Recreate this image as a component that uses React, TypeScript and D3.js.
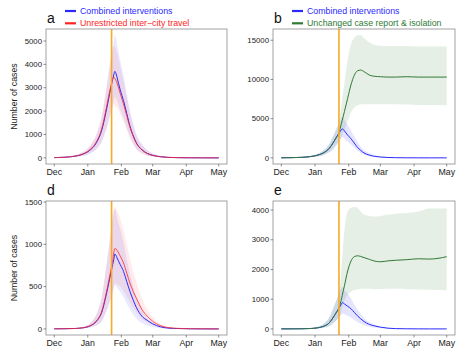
import React from "react";
import * as d3 from "d3";

// sample dates shared by every series
const DATES = [
  "2019-12-01", "2019-12-10", "2019-12-20", "2019-12-27", "2020-01-03", "2020-01-09",
  "2020-01-14", "2020-01-18", "2020-01-21", "2020-01-23", "2020-01-24", "2020-01-25",
  "2020-01-26", "2020-01-27", "2020-01-28", "2020-01-31", "2020-02-03", "2020-02-06",
  "2020-02-09", "2020-02-12", "2020-02-15", "2020-02-20", "2020-02-25", "2020-03-01",
  "2020-03-08", "2020-03-15", "2020-03-25", "2020-04-05", "2020-04-15", "2020-05-01",
];
const LOCKDOWN = "2020-01-23";
const MONTHS = ["2019-12-01", "2020-01-01", "2020-02-01", "2020-03-01", "2020-04-01", "2020-05-01"];
const MONTH_LABELS = ["Dec", "Jan", "Feb", "Mar", "Apr", "May"];

// panel a / b : combined interventions
const combA = [10, 25, 70, 150, 330, 650, 1200, 2000, 2700, 3150, 3350, 3550, 3700, 3620, 3450, 2900, 2450, 1900, 1350, 950, 630, 350, 190, 110, 50, 22, 8, 3, 1, 0];
const combAHi = [15, 40, 110, 230, 500, 980, 1750, 2850, 3800, 4400, 4700, 5000, 5250, 5150, 4900, 4150, 3500, 2750, 2000, 1450, 1000, 580, 330, 190, 90, 40, 15, 5, 2, 1];
const combALo = [5, 12, 35, 80, 180, 370, 700, 1200, 1700, 2050, 2250, 2450, 2600, 2550, 2450, 2050, 1700, 1300, 900, 600, 380, 200, 100, 55, 25, 10, 4, 1, 0, 0];
// panel a : unrestricted inter-city travel
const travA = [10, 25, 75, 160, 350, 690, 1260, 2100, 2800, 3200, 3380, 3450, 3400, 3320, 3200, 2750, 2300, 1800, 1300, 920, 620, 340, 185, 105, 48, 21, 8, 3, 1, 0];
const travAHi = [15, 42, 115, 240, 520, 1020, 1850, 3000, 3950, 4500, 4700, 4800, 4750, 4650, 4500, 3900, 3300, 2600, 1900, 1380, 950, 560, 320, 180, 85, 38, 14, 5, 2, 1];
const travALo = [5, 12, 38, 85, 190, 390, 730, 1250, 1750, 2050, 2200, 2300, 2250, 2200, 2150, 1850, 1550, 1200, 850, 570, 360, 190, 95, 52, 24, 10, 4, 1, 0, 0];
// panel b : unchanged case report & isolation
const isoB = [10, 25, 70, 150, 330, 650, 1200, 2000, 2700, 3150, 3700, 4250, 4800, 5350, 5900, 7600, 9300, 10500, 11100, 11200, 11000, 10550, 10400, 10350, 10300, 10300, 10350, 10300, 10300, 10300];
const isoBHi = [15, 40, 110, 230, 500, 980, 1750, 2850, 3800, 4500, 5500, 6500, 7500, 8500, 9500, 12500, 14500, 15300, 15600, 15650, 15300, 14700, 14400, 14300, 14250, 14250, 14250, 14200, 14200, 14200];
const isoBLo = [5, 12, 35, 80, 180, 370, 700, 1200, 1700, 2050, 2300, 2600, 2900, 3200, 3500, 4700, 5800, 6400, 6700, 6800, 6850, 6850, 6850, 6850, 6850, 6850, 6800, 6750, 6750, 6700];

// panel d / e : combined interventions
const combD = [1, 2, 5, 12, 35, 90, 200, 400, 580, 700, 760, 820, 885, 870, 840, 760, 680, 560, 440, 340, 250, 150, 100, 60, 25, 10, 4, 1, 0, 0];
const combDHi = [2, 4, 9, 22, 65, 170, 380, 720, 1000, 1200, 1300, 1380, 1420, 1380, 1320, 1180, 1020, 830, 650, 500, 370, 220, 130, 75, 32, 13, 5, 2, 1, 0];
const combDLo = [0, 1, 2, 5, 15, 40, 90, 200, 300, 380, 420, 470, 520, 510, 490, 440, 380, 300, 230, 170, 120, 70, 40, 22, 9, 4, 1, 0, 0, 0];
// panel d : unrestricted inter-city travel
const travD = [1, 2, 5, 13, 37, 95, 210, 420, 610, 740, 810, 900, 950, 945, 930, 860, 780, 660, 540, 440, 360, 230, 150, 90, 40, 16, 6, 2, 1, 0];
const travDHi = [2, 4, 9, 23, 68, 175, 390, 740, 1030, 1250, 1360, 1430, 1440, 1420, 1400, 1300, 1170, 1000, 830, 680, 550, 360, 230, 140, 60, 25, 9, 3, 1, 0];
const travDLo = [0, 1, 2, 6, 16, 42, 95, 210, 320, 400, 450, 500, 540, 540, 530, 500, 450, 380, 310, 250, 200, 120, 75, 45, 18, 7, 3, 1, 0, 0];
// panel e : unchanged case report & isolation
const isoE = [1, 2, 5, 12, 35, 90, 200, 400, 580, 700, 820, 960, 1120, 1290, 1450, 1950, 2280, 2430, 2460, 2440, 2400, 2340, 2280, 2260, 2290, 2310, 2330, 2360, 2350, 2430];
const isoEHi = [2, 4, 9, 22, 65, 170, 380, 720, 1000, 1200, 1500, 1900, 2400, 2900, 3300, 3950, 4080, 4100, 4080, 3950, 3850, 3800, 3780, 3800, 3850, 3880, 3900, 3950, 4050, 4050];
const isoELo = [0, 1, 2, 5, 15, 40, 90, 200, 300, 380, 450, 550, 700, 850, 950, 1150, 1250, 1300, 1330, 1340, 1350, 1350, 1340, 1340, 1350, 1350, 1340, 1330, 1320, 1300];

const TICKS_A = [0, 1000, 2000, 3000, 4000, 5000];
const TICKS_B = [0, 5000, 10000, 15000];
const TICKS_D = [0, 500, 1000, 1500];
const TICKS_E = [0, 1000, 2000, 3000, 4000];

const BLUE = "#2a2aff";
const RED = "#ff2424";
const GREEN = "#2f7a35";
const FONT = "'Liberation Sans', Arial, Helvetica, sans-serif";

const parse = d3.timeParse("%Y-%m-%d");
const dates = DATES.map((d) => parse(d) as Date);

type Series = { mid: number[]; lo: number[]; hi: number[]; color: string; bandOpacity: number; lineOpacity?: number };
type LegendItem = { label: string; color: string };

const Panel = ({ x0, x1, y0, y1, ticks, series, letter, legend, yTitle }: {
  x0: number; x1: number; y0: number; y1: number; ticks: number[];
  series: Series[]; letter: string; legend?: LegendItem[]; yTitle?: boolean;
}) => {
  const t0 = dates[0].getTime();
  const t1 = dates[dates.length - 1].getTime();
  const pad = (t1 - t0) * 0.05;
  const x = d3.scaleTime().domain([new Date(t0 - pad), new Date(t1 + pad)]).range([x0, x1]);
  const maxV = d3.max(series, (s) => d3.max(s.hi)) as number;
  const y = d3.scaleLinear().domain([-maxV * 0.05, maxV * 1.05]).range([y1, y0]);

  const band = (lo: number[], hi: number[]) =>
    d3.area<number>()
      .x((_, i) => x(dates[i]))
      .y0((_, i) => y(lo[i]))
      .y1((_, i) => y(hi[i]))
      .curve(d3.curveMonotoneX)(hi);
  const line = d3.line<number>()
    .x((_, i) => x(dates[i]))
    .y((d) => y(d))
    .curve(d3.curveMonotoneX);

  const lx = x(parse(LOCKDOWN) as Date);

  return (
    <g fontFamily={FONT}>
      {series.map((s, i) => (
        <path key={"b" + i} d={band(s.lo, s.hi) || ""} fill={s.color} fillOpacity={s.bandOpacity} stroke="none" />
      ))}
      {series.map((s, i) => (
        <path key={"l" + i} d={line(s.mid) || ""} fill="none" stroke={s.color} strokeWidth={1} strokeOpacity={s.lineOpacity ?? 1} />
      ))}
      <line x1={lx} x2={lx} y1={y0} y2={y1} stroke="#f7aa22" strokeWidth={1.6} />
      <rect x={x0} y={y0} width={x1 - x0} height={y1 - y0} fill="none" stroke="#8c8c8c" strokeWidth={0.8} />
      {ticks.map((t) => (
        <g key={"y" + t}>
          <line x1={x0 - 2.5} x2={x0} y1={y(t)} y2={y(t)} stroke="#444" strokeWidth={0.6} />
          <text x={x0 - 4} y={y(t)} dy="0.34em" textAnchor="end" fontSize={7.8} fill="#222">{t}</text>
        </g>
      ))}
      {MONTHS.map((m, i) => {
        const mx = x(parse(m) as Date);
        return (
          <g key={m}>
            <line x1={mx} x2={mx} y1={y1} y2={y1 + 2.5} stroke="#444" strokeWidth={0.6} />
            <text x={mx} y={y1 + 11} textAnchor="middle" fontSize={8.8} fill="#222">{MONTH_LABELS[i]}</text>
          </g>
        );
      })}
      {yTitle && (
        <text transform={`translate(${x0 - 29},${(y0 + y1) / 2}) rotate(-90)`} textAnchor="middle" fontSize={8.8} fill="#222">
          Number of cases
        </text>
      )}
      <text x={x0 + 1} y={y0 - 6} fontSize={14} fill="#111">{letter}</text>
      {legend && legend.map((l, i) => (
        <g key={l.label}>
          <line x1={x0 + 19} x2={x0 + 30} y1={11 + i * 12.3} y2={11 + i * 12.3} stroke={l.color} strokeWidth={2.2} />
          <text x={x0 + 34} y={11 + i * 12.3} dy="0.35em" fontSize={8.8} fill={l.color}>{l.label}</text>
        </g>
      ))}
    </g>
  );
};

export default function App() {
  return (
    <svg width={460} height={351} style={{ position: "absolute", left: 0, top: 0, background: "#fff" }}>
      <rect width={460} height={351} fill="#fff" />
      <Panel x0={46} x1={227} y0={29} y1={164} ticks={TICKS_A} letter="a" yTitle
        legend={[{ label: "Combined interventions", color: BLUE }, { label: "Unrestricted inter\u2212city travel", color: RED }]}
        series={[
          { mid: combA, lo: combALo, hi: combAHi, color: BLUE, bandOpacity: 0.1 },
          { mid: travA, lo: travALo, hi: travAHi, color: RED, bandOpacity: 0.09, lineOpacity: 0.8 },
        ]} />
      <Panel x0={273} x1={455} y0={29} y1={164} ticks={TICKS_B} letter="b"
        legend={[{ label: "Combined interventions", color: BLUE }, { label: "Unchanged case report & isolation", color: GREEN }]}
        series={[
          { mid: combA, lo: combALo, hi: combAHi, color: BLUE, bandOpacity: 0.12 },
          { mid: isoB, lo: isoBLo, hi: isoBHi, color: GREEN, bandOpacity: 0.12 },
        ]} />
      <Panel x0={46} x1={227} y0={201} y1={335} ticks={TICKS_D} letter="d" yTitle
        series={[
          { mid: combD, lo: combDLo, hi: combDHi, color: BLUE, bandOpacity: 0.1 },
          { mid: travD, lo: travDLo, hi: travDHi, color: RED, bandOpacity: 0.09, lineOpacity: 0.8 },
        ]} />
      <Panel x0={273} x1={455} y0={201} y1={335} ticks={TICKS_E} letter="e"
        series={[
          { mid: combD, lo: combDLo, hi: combDHi, color: BLUE, bandOpacity: 0.12 },
          { mid: isoE, lo: isoELo, hi: isoEHi, color: GREEN, bandOpacity: 0.12 },
        ]} />
    </svg>
  );
}
